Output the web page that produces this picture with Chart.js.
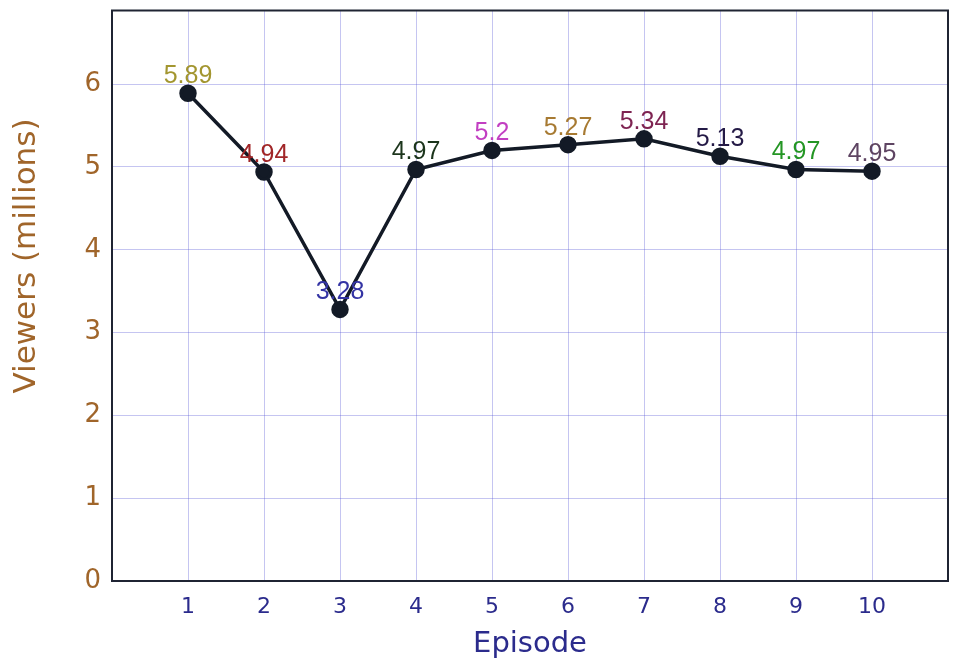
<!DOCTYPE html>
<html>
<head>
<meta charset="utf-8">
<script src="https://cdn.jsdelivr.net/npm/chart.js@4/dist/chart.umd.min.js"></script>
<style>
  html, body { margin: 0; padding: 0; background: #fff; }
  #wrap { width: 960px; height: 663px; }
</style>
</head>
<body>
<div id="wrap"><canvas id="viewersChart" width="960" height="663"></canvas></div>
<script>
  // data
  var episodes = [1, 2, 3, 4, 5, 6, 7, 8, 9, 10];
  var viewers = [5.89, 4.94, 3.28, 4.97, 5.2, 5.27, 5.34, 5.13, 4.97, 4.95];
  var labelColors = ['#a39630', '#a12628', '#3434a4', '#1c351c', '#c23fc2',
                     '#a77a32', '#7e2452', '#241a46', '#249624', '#5e4462'];
  var yTicks = [0, 1, 2, 3, 4, 5, 6];
  var yTitle = 'Viewers (millions)';

  var gridColor = 'rgba(90, 90, 215, 0.35)';

  // write each value above its point
  var valueLabels = {
    id: 'valueLabels',
    afterDatasetsDraw: function (chart) {
      var ctx = chart.ctx;
      var meta = chart.getDatasetMeta(0);
      ctx.save();
      ctx.font = '25px "Liberation Sans", Arial, sans-serif';
      ctx.textAlign = 'center';
      ctx.textBaseline = 'alphabetic';
      meta.data.forEach(function (pt, i) {
        ctx.fillStyle = labelColors[i];
        ctx.fillText(String(viewers[i]), pt.x, pt.y - 10);
      });
      ctx.restore();
    }
  };

  // dark frame round the plot area + y title (sits above centre in the original)
  var frame = {
    id: 'frame',
    afterDraw: function (chart) {
      var a = chart.chartArea;
      var ctx = chart.ctx;
      ctx.save();
      ctx.strokeStyle = '#1f2433';
      ctx.lineWidth = 2;
      ctx.strokeRect(a.left, a.top, a.right - a.left, a.bottom - a.top);

      ctx.translate(27, 256);
      ctx.rotate(-Math.PI / 2);
      ctx.font = '31px "DejaVu Sans"';
      ctx.fillStyle = '#a0652a';
      ctx.textAlign = 'center';
      ctx.textBaseline = 'middle';
      ctx.fillText(yTitle, 0, 0);
      ctx.restore();
    }
  };

  new Chart(document.getElementById('viewersChart').getContext('2d'), {
    type: 'line',
    data: {
      datasets: [{
        label: 'Viewers',
        data: episodes.map(function (e, i) { return { x: e, y: viewers[i] }; }),
        borderColor: '#131a26',
        backgroundColor: '#131a26',
        borderWidth: 3.5,
        pointRadius: 7,
        pointHoverRadius: 7,
        tension: 0
      }]
    },
    options: {
      responsive: false,
      animation: false,
      layout: { padding: { top: 5, right: 12, left: 0, bottom: 0 } },
      plugins: { legend: { display: false }, tooltip: { enabled: false } },
      scales: {
        x: {
          type: 'linear',
          min: 0,
          max: 11,
          afterBuildTicks: function (scale) {
            scale.ticks = episodes.map(function (v) { return { value: v }; });
          },
          afterFit: function (scale) {
            scale.height = 82;
            scale.paddingLeft = 0;
            scale.paddingRight = 0;
          },
          grid: { color: gridColor, drawTicks: false },
          border: { display: false },
          ticks: {
            color: '#2b2b8c',
            padding: 13,
            font: { family: 'DejaVu Sans', size: 22 }
          },
          title: {
            display: true,
            text: 'Episode',
            color: '#2b2b8c',
            padding: { top: 0, bottom: 1 },
            font: { family: 'DejaVu Sans', size: 29 }
          }
        },
        y: {
          min: 0,
          max: 6.89,
          afterBuildTicks: function (scale) {
            scale.ticks = yTicks.map(function (v) { return { value: v }; });
          },
          afterFit: function (scale) {
            scale.width = 112;
            scale.paddingTop = 0;
            scale.paddingBottom = 0;
          },
          grid: { color: gridColor, drawTicks: false },
          border: { display: false },
          ticks: {
            color: '#a0652a',
            padding: 11,
            font: { family: 'DejaVu Sans', size: 26 }
          }
        }
      }
    },
    plugins: [valueLabels, frame]
  });
</script>
</body>
</html>
